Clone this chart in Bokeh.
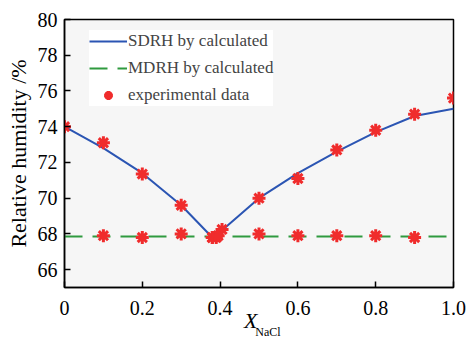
from bokeh.plotting import figure
from bokeh.models import FixedTicker, Legend, LegendItem, Range1d, LinearAxis
from bokeh.embed import file_html
from bokeh.resources import INLINE

# calculated SDRH curve
calc_x = [0.0, 0.1, 0.2, 0.3, 0.38, 0.4, 0.5, 0.6, 0.7, 0.8, 0.9, 1.0]
calc_sdrh = [74.0, 72.8, 71.4, 69.6, 67.8, 68.1, 70.0, 71.4, 72.6, 73.7, 74.6, 75.0]
# calculated MDRH
mdrh_x = [0.0, 1.0]
mdrh_val = [67.85, 67.85]
# experimental data
exp_x = [0.0, 0.1, 0.2, 0.3, 0.38, 0.39, 0.405, 0.5, 0.6, 0.7, 0.8, 0.9, 1.0,
         0.1, 0.2, 0.3, 0.38, 0.395, 0.5, 0.6, 0.7, 0.8, 0.9]
exp_y = [74.0, 73.1, 71.35, 69.6, 67.8, 67.8, 68.25, 70.0, 71.1, 72.7, 73.8, 74.7, 75.6,
         67.9, 67.8, 68.0, 67.8, 67.9, 68.0, 67.9, 67.9, 67.9, 67.8]

x_ticks = [0, 0.2, 0.4, 0.6, 0.8, 1.0]
y_ticks = [66, 68, 70, 72, 74, 76, 78, 80]

FONT = "serif"
NB = "\u00a0"

p = figure(width=471, height=341, output_backend="svg", toolbar_location=None,
           x_range=Range1d(0, 1.0), y_range=Range1d(65, 80),
           min_border_left=64, min_border_right=18, min_border_top=19, min_border_bottom=51)
p.background_fill_color = "#f6f6f6"
p.border_fill_color = "white"
p.outline_line_color = "black"
p.outline_line_width = 1.5
p.grid.visible = False

for ax in (p.xaxis[0], p.yaxis[0]):
    ax.major_tick_in = 6
    ax.major_tick_out = 0
    ax.minor_tick_line_color = None
    ax.axis_line_width = 1.5
    ax.major_tick_line_width = 1.5
    ax.major_label_text_font = FONT
    ax.major_label_text_font_size = "20px"
    ax.major_label_text_color = "black"
    ax.axis_label_text_font = FONT
    ax.axis_label_text_color = "black"

p.xaxis.ticker = FixedTicker(ticks=x_ticks)
p.yaxis.ticker = FixedTicker(ticks=y_ticks)
p.xaxis.major_label_overrides = {0: "0", 1: "1.0", 1.0: "1.0"}
p.xaxis.major_label_standoff = 13
p.yaxis.major_label_standoff = 7
p.yaxis.axis_label = "Relative humidity /%"
p.yaxis.axis_label_text_font_style = "normal"
p.yaxis.axis_label_text_font_size = "22px"
p.yaxis.axis_label_standoff = 4

p.xaxis.axis_label = "X" + NB * 3
p.xaxis.axis_label_text_font_style = "italic"
p.xaxis.axis_label_text_font_size = "22px"
p.xaxis.axis_label_standoff = -10

sub_axis = LinearAxis(ticker=FixedTicker(ticks=[]), axis_line_color=None,
                      major_tick_line_color=None, minor_tick_line_color=None,
                      major_label_text_font_size="0px",
                      axis_label=NB * 6 + "NaCl", axis_label_text_font=FONT,
                      axis_label_text_font_style="normal",
                      axis_label_text_font_size="12px", axis_label_text_color="black",
                      axis_label_standoff=-11)
p.add_layout(sub_axis, "below")

r1 = p.line(calc_x, calc_sdrh, line_color="#2b55b3", line_width=2)
r2 = p.line(mdrh_x, mdrh_val, line_color="#2f9a3f", line_width=2, line_dash="18 10")
r3 = p.scatter(exp_x, exp_y, marker="asterisk", size=13, line_color="#f02c2c", line_width=3)

legend = Legend(items=[LegendItem(label="SDRH by calculated", renderers=[r1]),
                       LegendItem(label="MDRH by calculated", renderers=[r2]),
                       LegendItem(label="experimental data", renderers=[r3])],
                location=(25, 181))
legend.label_text_font = FONT
legend.label_text_font_size = "17px"
legend.background_fill_color = "white"
legend.background_fill_alpha = 0.95
legend.border_line_color = None
legend.glyph_width = 38
legend.glyph_height = 22
legend.spacing = 5
legend.label_standoff = 1
legend.margin = 0
legend.padding = 9
p.add_layout(legend)

open("out.html", "w").write(file_html(p, INLINE))
